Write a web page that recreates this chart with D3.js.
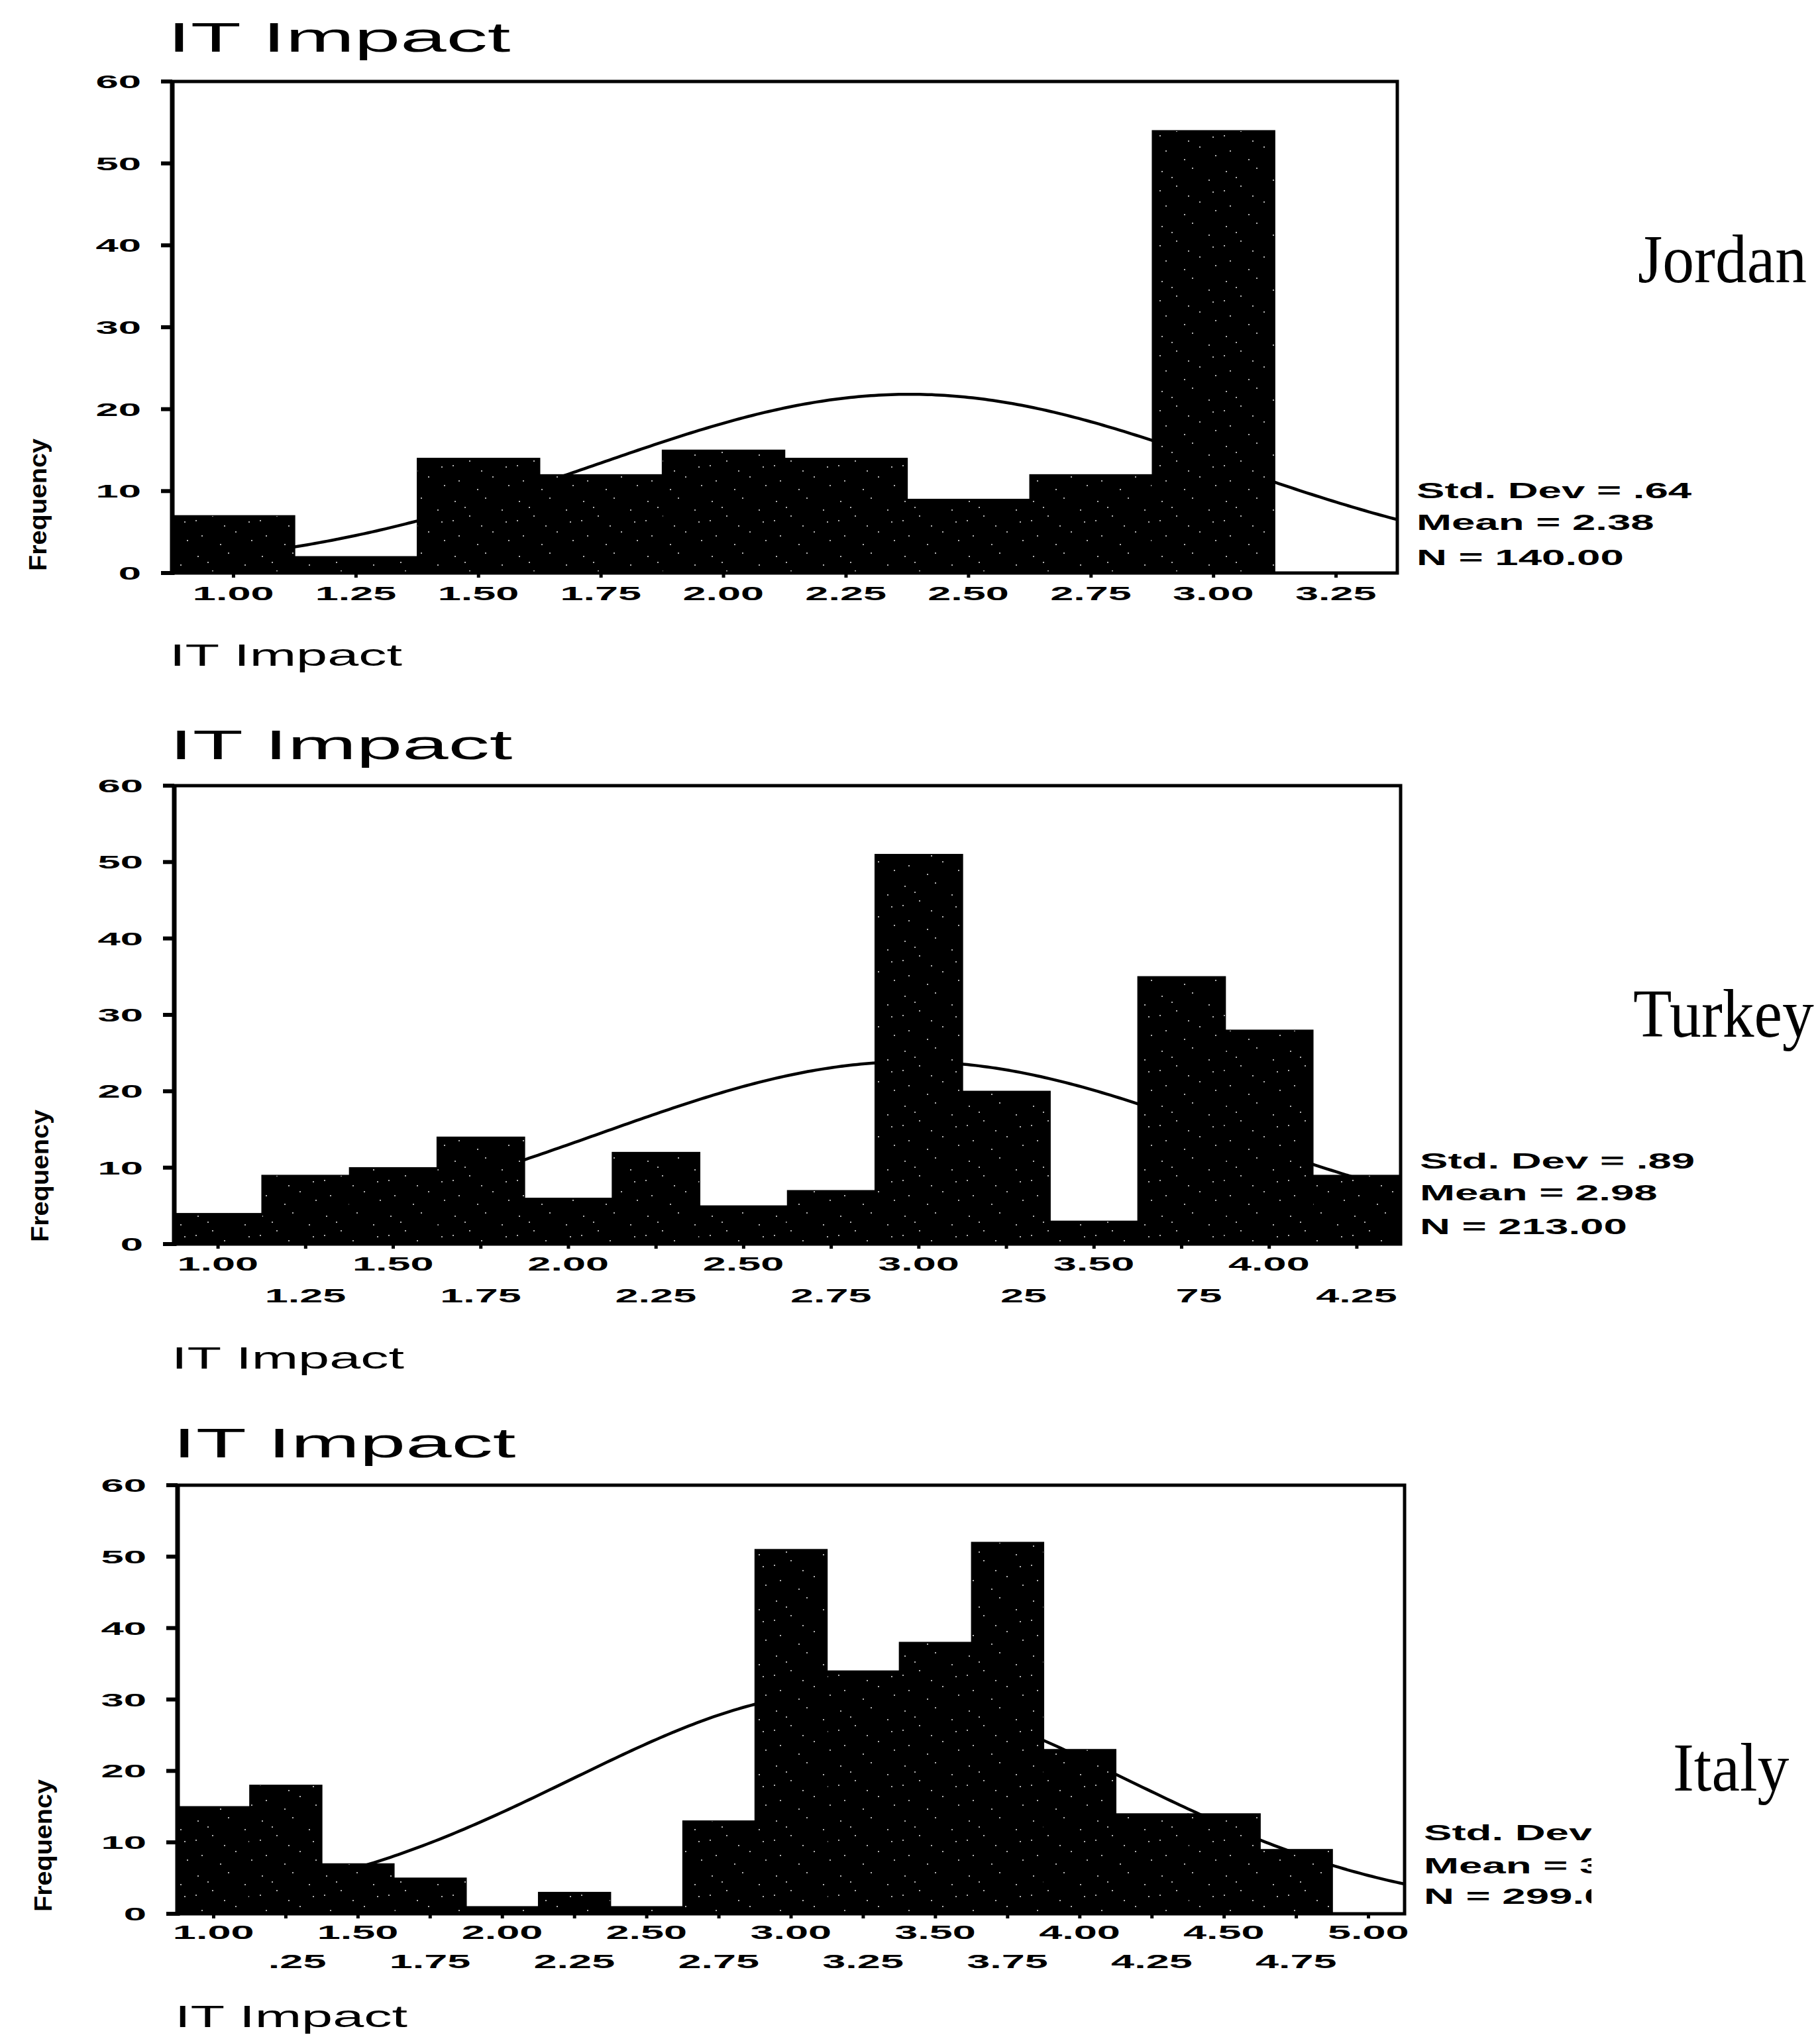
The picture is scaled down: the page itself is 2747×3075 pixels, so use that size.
<!DOCTYPE html>
<html><head><meta charset="utf-8">
<script src="https://cdn.jsdelivr.net/npm/d3@7"></script>
<style>html,body{margin:0;padding:0;background:#fff;} svg{display:block;}</style>
</head><body>
<svg id="chart" width="2747" height="3075"></svg>
<script>
// ---------------- data ----------------
const countryNames = ["Jordan", "Turkey", "Italy"];
const chartTitle = "IT Impact";
const xAxisTitle = "IT Impact";
const yAxisTitle = "Frequency";
const yTickValues = [0, 10, 20, 30, 40, 50, 60];
const binWidth = 0.25;

const jordanBins = [1.00, 1.25, 1.50, 1.75, 2.00, 2.25, 2.50, 2.75, 3.00, 3.25];
const jordanCounts = [7, 2, 14, 12, 15, 14, 9, 12, 54, 0];
const jordanTickLabels = ["1.00", "1.25", "1.50", "1.75", "2.00", "2.25", "2.50", "2.75", "3.00", "3.25"];
const jordanFit = [2.38, 0.64, 140];            // mean, sd, N
const jordanStats = ["Std. Dev = .64", "Mean = 2.38", "N = 140.00"];

const turkeyBins = [1.00, 1.25, 1.50, 1.75, 2.00, 2.25, 2.50, 2.75, 3.00, 3.25, 3.50, 3.75, 4.00, 4.25];
const turkeyCounts = [4, 9, 10, 14, 6, 12, 5, 7, 51, 20, 3, 35, 28, 9];
const turkeyTickLabels = ["1.00", "1.25", "1.50", "1.75", "2.00", "2.25", "2.50", "2.75", "3.00", "25", "3.50", "75", "4.00", "4.25"];
const turkeyFit = [2.98, 0.89, 213];
const turkeyStats = ["Std. Dev = .89", "Mean = 2.98", "N = 213.00"];

const italyBins = [1.00, 1.25, 1.50, 1.75, 2.00, 2.25, 2.50, 2.75, 3.00, 3.25, 3.50, 3.75, 4.00, 4.25, 4.50, 4.75, 5.00];
const italyCounts = [15, 18, 7, 5, 1, 3, 1, 13, 51, 34, 38, 52, 23, 14, 14, 9, 0];
const italyTickLabels = ["1.00", ".25", "1.50", "1.75", "2.00", "2.25", "2.50", "2.75", "3.00", "3.25", "3.50", "3.75", "4.00", "4.25", "4.50", "4.75", "5.00"];
const italyFit = [3.20, 0.96, 299];
const italyStats = ["Std. Dev = .96", "Mean = 3.20", "N = 299.00"];

// ---------------- layout (positions / styles) ----------------
const layout = [
  {L:260, R:2109, T:123,  B:865,  titleY:78,   rows:[906, 906],   axisTitleY:1005, statsY:[752, 800, 853],   country:[2472, 426],  clip:null},
  {L:263, R:2114, T:1186, B:1878, titleY:1146, rows:[1918, 1966], axisTitleY:2066, statsY:[1764, 1812, 1863], country:[2465, 1565], clip:null},
  {L:268, R:2120, T:2242, B:2889, titleY:2200, rows:[2927, 2971], axisTitleY:3060, statsY:[2778, 2828, 2874], country:[2525, 2703], clip:2402}
];

const panels = [
  {bins: jordanBins, counts: jordanCounts, labels: jordanTickLabels, fit: jordanFit, stats: jordanStats, name: countryNames[0]},
  {bins: turkeyBins, counts: turkeyCounts, labels: turkeyTickLabels, fit: turkeyFit, stats: turkeyStats, name: countryNames[1]},
  {bins: italyBins,  counts: italyCounts,  labels: italyTickLabels,  fit: italyFit,  stats: italyStats,  name: countryNames[2]}
];

const SANS = "'Liberation Sans', Arial, Helvetica, sans-serif";
const SERIF = "'Liberation Serif', 'Times New Roman', Times, serif";

const svg = d3.select("#chart");
svg.append("rect").attr("width", 2747).attr("height", 3075).attr("fill", "#fff");

// speckled black fill for bars
const defs = svg.append("defs");
const pat = defs.append("pattern").attr("id", "speckle")
  .attr("patternUnits", "userSpaceOnUse").attr("width", 97).attr("height", 83);
pat.append("rect").attr("width", 97).attr("height", 83).attr("fill", "#000");
const speckPos = [[7,9],[53,4],[29,31],[78,22],[13,61],[64,55],[41,74],[88,68],[22,18],[47,46],[84,40],[4,38]];
speckPos.forEach(([sx, sy]) => pat.append("rect").attr("x", sx).attr("y", sy)
  .attr("width", 2).attr("height", 2).attr("fill", "#fff").attr("opacity", 0.7));

function sText(g, x, y, str, o) {
  return g.append("text")
    .attr("transform", `translate(${x},${y}) scale(${o.sx || 1},1)`)
    .attr("text-anchor", o.anchor || "start")
    .attr("font-family", o.family || SANS)
    .attr("font-size", o.size)
    .attr("font-weight", o.weight || "normal")
    .attr("fill", "#000")
    .text(str);
}

panels.forEach((p, i) => {
  const lay = layout[i];
  const g = svg.append("g");
  const lo = p.bins[0] - binWidth / 2;
  const hi = p.bins[p.bins.length - 1] + binWidth / 2;
  const x = d3.scaleLinear().domain([lo, hi]).range([lay.L, lay.R]);
  const y = d3.scaleLinear().domain([0, 60]).range([lay.B, lay.T]);

  // clip for plot area
  const cid = "clip" + i;
  defs.append("clipPath").attr("id", cid).append("rect")
    .attr("x", lay.L).attr("y", lay.T).attr("width", lay.R - lay.L).attr("height", lay.B - lay.T);

  // normal curve (under the bars)
  const [mean, sd, n] = p.fit;
  const k = n * binWidth / (sd * Math.sqrt(2 * Math.PI));
  const xs = d3.range(0, 301).map(j => lo + (hi - lo) * j / 300);
  const line = d3.line().x(v => x(v)).y(v => y(k * Math.exp(-0.5 * ((v - mean) / sd) ** 2)));
  g.append("path").datum(xs).attr("d", line).attr("clip-path", `url(#${cid})`)
    .attr("fill", "none").attr("stroke", "#000").attr("stroke-width", 4.5).attr("stroke-linejoin", "round");

  // bars
  g.append("g").selectAll("rect").data(p.bins.map((b, j) => ({b, c: p.counts[j]})).filter(d => d.c > 0))
    .join("rect")
    .attr("x", d => x(d.b - binWidth / 2))
    .attr("width", d => x(d.b + binWidth / 2) - x(d.b - binWidth / 2))
    .attr("y", d => y(d.c))
    .attr("height", d => y(0) - y(d.c))
    .attr("fill", "url(#speckle)")
    .attr("stroke", "#000").attr("stroke-width", 1.5);

  // frame
  g.append("rect").attr("x", lay.L).attr("y", lay.T).attr("width", lay.R - lay.L).attr("height", lay.B - lay.T)
    .attr("fill", "none").attr("stroke", "#000").attr("stroke-width", 5);
  g.append("line").attr("x1", lay.L).attr("x2", lay.L).attr("y1", lay.T).attr("y2", lay.B + 3)
    .attr("stroke", "#000").attr("stroke-width", 7);

  // y ticks + labels
  yTickValues.forEach(v => {
    g.append("line").attr("x1", lay.L - 17).attr("x2", lay.L).attr("y1", y(v)).attr("y2", y(v))
      .attr("stroke", "#000").attr("stroke-width", 6);
    sText(g, lay.L - 47, y(v) + 10, String(v), {size: 28, sx: 2.2, anchor: "end", weight: "bold"});
  });

  // x ticks + labels
  p.bins.forEach((b, j) => {
    g.append("line").attr("x1", x(b)).attr("x2", x(b)).attr("y1", lay.B).attr("y2", lay.B + 7)
      .attr("stroke", "#000").attr("stroke-width", 5);
    const rowY = lay.rows[j % 2];
    sText(g, x(b) + 61, rowY, p.labels[j], {size: 30, sx: 2.1, anchor: "end", weight: "bold"});
  });

  // titles
  sText(g, lay.L - 7, lay.titleY, chartTitle, {size: 63, sx: 1.98});
  sText(g, lay.L - 4, lay.axisTitleY, xAxisTitle, {size: 47, sx: 1.8});

  // y axis title (rotated)
  g.append("text")
    .attr("transform", `translate(${lay.L - 190},${lay.B - 3}) rotate(-90)`)
    .attr("font-family", SANS).attr("font-size", 36).attr("font-weight", "bold")
    .attr("textLength", 200).attr("lengthAdjust", "spacingAndGlyphs")
    .attr("fill", "#000").text(yAxisTitle);

  // stats
  const sg = g.append("g");
  if (lay.clip) {
    defs.append("clipPath").attr("id", "sclip" + i).append("rect")
      .attr("x", 0).attr("y", 0).attr("width", lay.clip).attr("height", 3075);
    sg.attr("clip-path", `url(#sclip${i})`);
  }
  p.stats.forEach((s, j) => sText(sg, lay.R + 29, lay.statsY[j], s, {size: 34, sx: 1.87, weight: "bold"}));

  // country label
  sText(g, lay.country[0], lay.country[1], p.name, {size: 104, sx: 0.92, family: SERIF});
});
</script>
</body></html>
